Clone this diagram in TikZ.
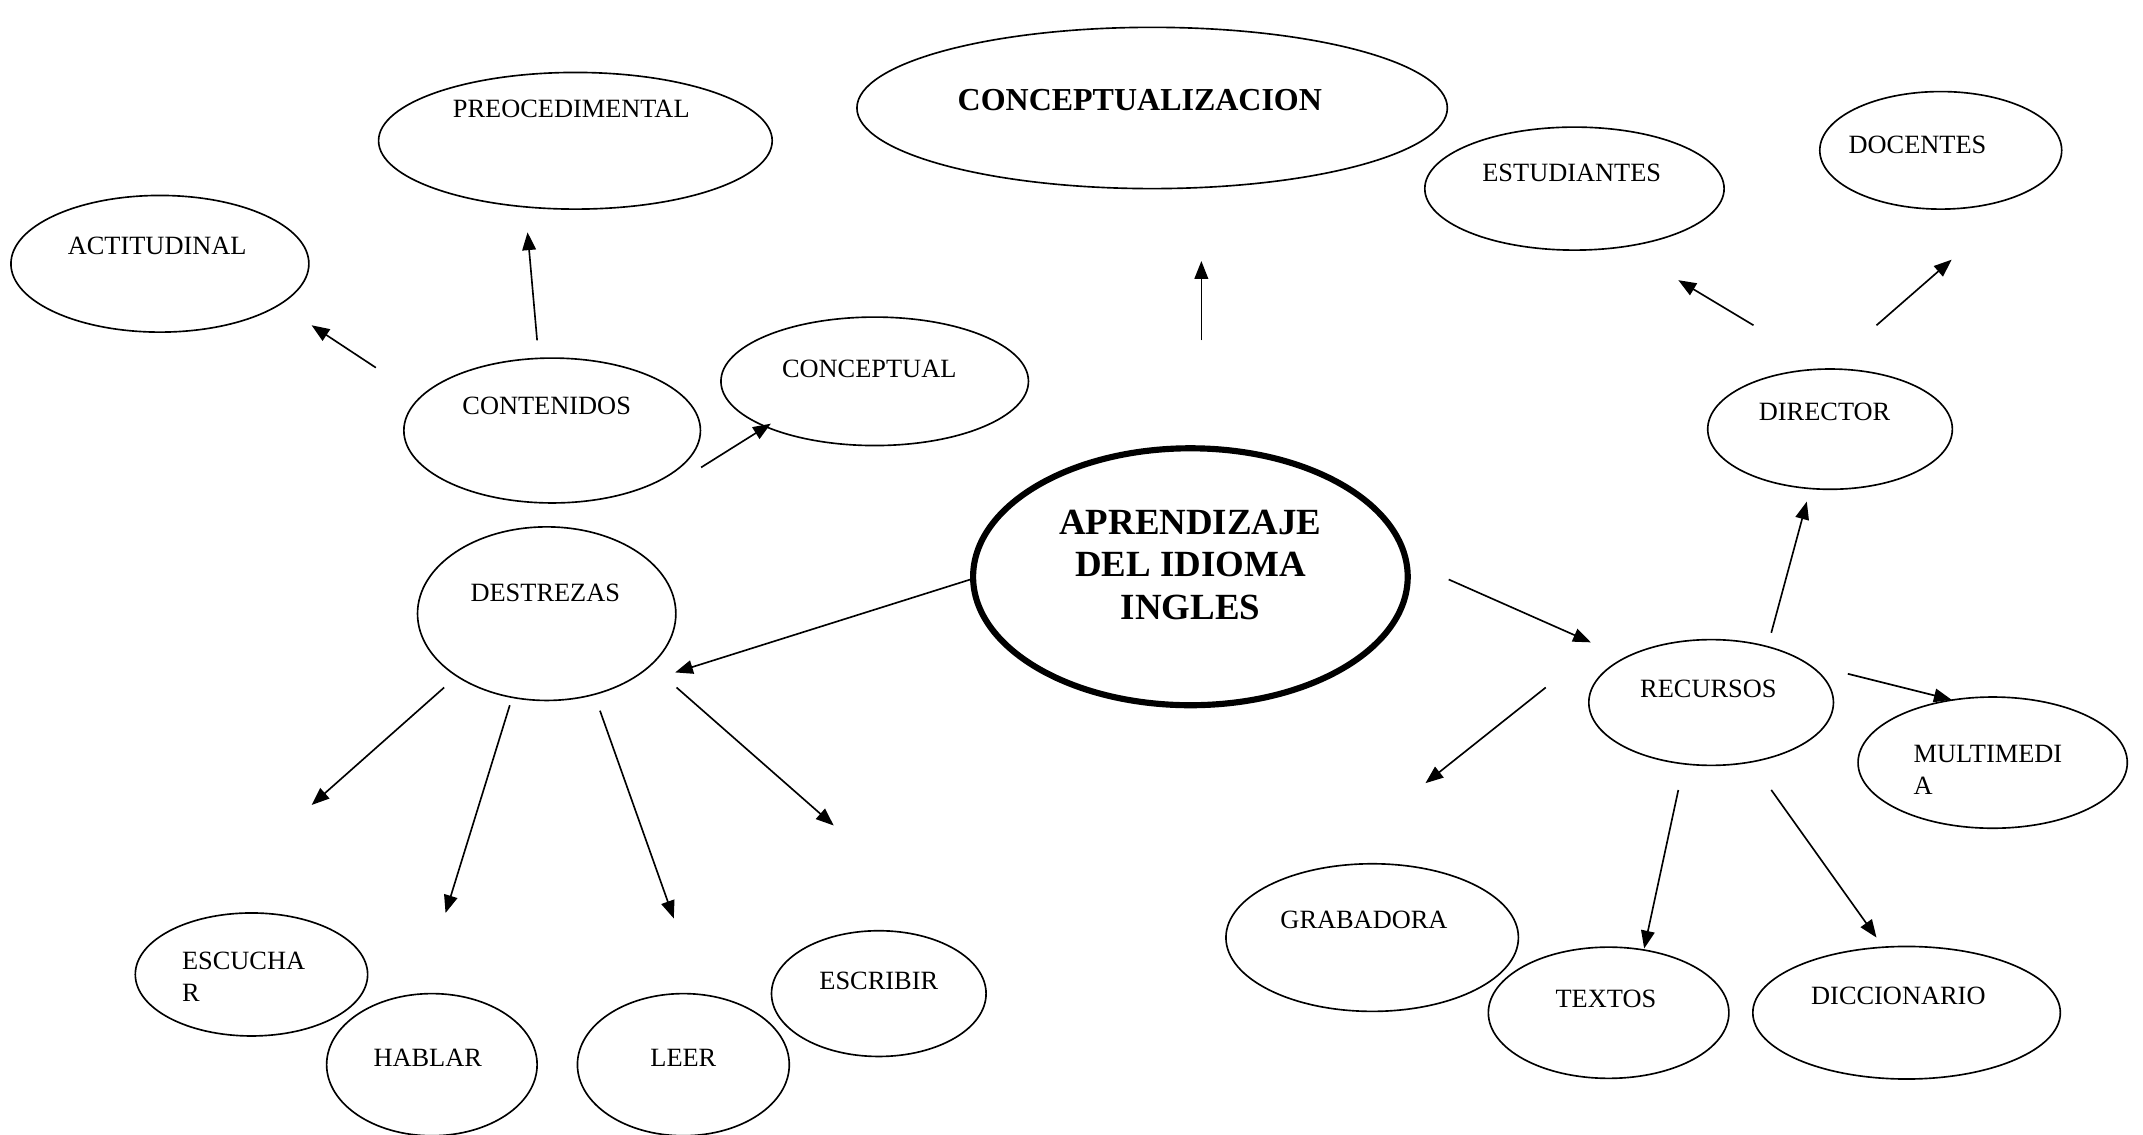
\documentclass[tikz,border=0pt]{standalone}
\usepackage{fontspec}
\setmainfont{Liberation Serif}
\usetikzlibrary{shapes.geometric,arrows.meta}
\tikzset{
  oval/.style={draw,ellipse,line width=1.2pt,inner sep=0pt},
  bigoval/.style={draw,ellipse,line width=4.5pt,inner sep=0pt},
  txt/.style={font=\fontsize{19.3}{24}\selectfont,inner sep=0pt,anchor=base},
  txtl/.style={font=\fontsize{19.3}{24}\selectfont,inner sep=0pt,anchor=base west},
  btxt/.style={font=\fontsize{23.4}{28}\selectfont\bfseries,inner sep=0pt,anchor=base},
  mtxt/.style={font=\fontsize{27}{31}\selectfont\bfseries,inner sep=0pt,anchor=base},
  arr/.style={line width=1.2pt,-{Triangle[length=13pt,width=10pt]}}
}
\newcommand{\ov}[5]{\node[oval,minimum width=#3pt,minimum height=#4pt] (#1) at #2 {};}
\begin{document}
\begin{tikzpicture}[x=1pt,y=-1pt]
\useasboundingbox (0,0) rectangle (1568,830);
% ellipses
\ov{preo}{(421,103)}{288}{100}{}
\ov{acti}{(117,193)}{218}{100}{}
\ov{conc}{(843,79)}{432}{118}{}
\ov{cont}{(404,315)}{217}{106}{}
\ov{cptl}{(640,279)}{225}{94}{}
\node[bigoval,minimum width=318pt,minimum height=188pt] (apr) at (871,422) {};
\ov{dest}{(400,449)}{189}{127}{}
\ov{escu}{(184,713)}{170}{90}{}
\ov{habl}{(316,779)}{154}{104}{}
\ov{leer}{(500,779)}{155}{104}{}
\ov{escr}{(643,727)}{157}{92}{}
\ov{estu}{(1152,138)}{219}{90}{}
\ov{doce}{(1420,110)}{177}{86}{}
\ov{dire}{(1339,314)}{179}{88}{}
\ov{recu}{(1252,514)}{179}{92}{}
\ov{mult}{(1458,558)}{197}{96}{}
\ov{grab}{(1004,686)}{214}{108}{}
\ov{text}{(1177,741)}{176}{96}{}
\ov{dicc}{(1395,741)}{225}{97}{}
% texts
\node[txt] (preoT) at (418,86) {PREOCEDIMENTAL};
\node[txt] (actiT) at (115,186) {ACTITUDINAL};
\node[btxt] (concT) at (834,81) {CONCEPTUALIZACION};
\node[txt] (contT) at (400,303) {CONTENIDOS};
\node[txt] (cptlT) at (636,276) {CONCEPTUAL};
\node[mtxt] (aprT1) at (871,391) {APRENDIZAJE};
\node[mtxt] (aprT2) at (871,422) {DEL IDIOMA};
\node[mtxt] (aprT3) at (871,453) {INGLES};
\node[txt] (destT) at (399,440) {DESTREZAS};
\node[txtl] (escuT1) at (133,709) {ESCUCHA};
\node[txtl] (escuT2) at (133,733) {R};
\node[txt] (hablT) at (313,780) {HABLAR};
\node[txt] (leerT) at (500,780) {LEER};
\node[txt] (escrT) at (643,724) {ESCRIBIR};
\node[txt] (estuT) at (1150,133) {ESTUDIANTES};
\node[txt] (doceT) at (1403,112) {DOCENTES};
\node[txt] (direT) at (1335,308) {DIRECTOR};
\node[txt] (recuT) at (1250,510) {RECURSOS};
\node[txtl] (multT1) at (1400,558) {MULTIMEDI};
\node[txtl] (multT2) at (1400,581) {A};
\node[txt] (grabT) at (998,679) {GRABADORA};
\node[txt] (textT) at (1175,737) {TEXTOS};
\node[txt] (diccT) at (1389,735) {DICCIONARIO};
% arrow end points
\coordinate (a1s) at (275,269); \coordinate (a1e) at (228,238);
\coordinate (a2s) at (393,249); \coordinate (a2e) at (386,170);
\coordinate (a3s) at (513,342); \coordinate (a3e) at (564,310);
\coordinate (a4s) at (879,249); \coordinate (a4e) at (879,191);
\coordinate (a5s) at (710,424); \coordinate (a5e) at (494,492);
\coordinate (a6s) at (1060,424); \coordinate (a6e) at (1164,470);
\coordinate (a7s) at (325,503); \coordinate (a7e) at (228,589);
\coordinate (a8s) at (373,516); \coordinate (a8e) at (326,668);
\coordinate (a9s) at (439,520); \coordinate (a9e) at (493,672);
\coordinate (a10s) at (495,503); \coordinate (a10e) at (610,604);
\coordinate (a11s) at (1296,463); \coordinate (a11e) at (1322,367);
\coordinate (a12s) at (1352,493); \coordinate (a12e) at (1428,512);
\coordinate (a13s) at (1131,503); \coordinate (a13e) at (1043,573);
\coordinate (a14s) at (1228,578); \coordinate (a14e) at (1203,694);
\coordinate (a15s) at (1296,578); \coordinate (a15e) at (1373,686);
\coordinate (a16s) at (1283,238); \coordinate (a16e) at (1228,205);
\coordinate (a17s) at (1373,238); \coordinate (a17e) at (1428,190);
\foreach \i in {1,...,17} { \draw[arr] (a\i s) -- (a\i e); }
\end{tikzpicture}
\end{document}
